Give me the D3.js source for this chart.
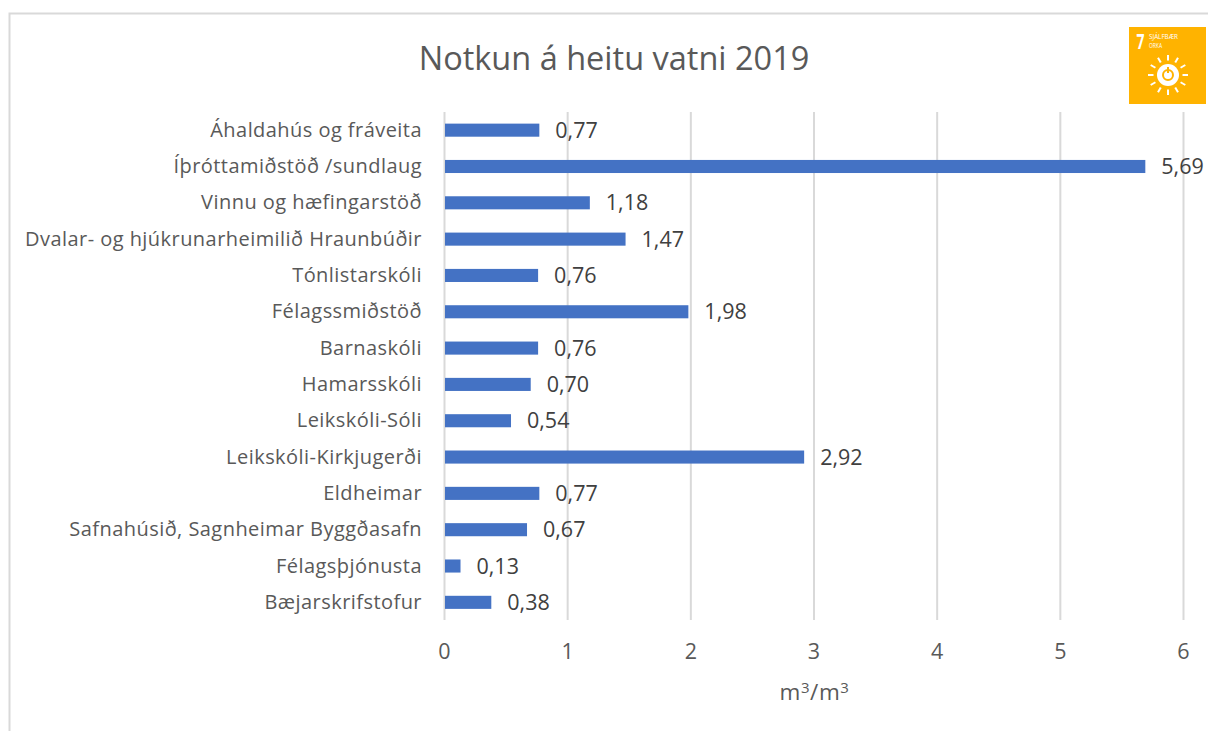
<!DOCTYPE html>
<html><head><meta charset="utf-8">
<script src="https://cdn.jsdelivr.net/npm/d3@7"></script>
<style>html,body{margin:0;padding:0;background:#fff}svg{display:block}text{font-family:"Open Sans","Noto Sans",sans-serif}</style>
</head><body><svg id="c" width="1208" height="731"></svg>
<script>
const categories=["Áhaldahús og fráveita","Íþróttamiðstöð /sundlaug","Vinnu og hæfingarstöð","Dvalar- og hjúkrunarheimilið Hraunbúðir","Tónlistarskóli","Félagssmiðstöð","Barnaskóli","Hamarsskóli","Leikskóli-Sóli","Leikskóli-Kirkjugerði","Eldheimar","Safnahúsið, Sagnheimar Byggðasafn","Félagsþjónusta","Bæjarskrifstofur"];
const values=[0.77,5.69,1.18,1.47,0.76,1.98,0.76,0.70,0.54,2.92,0.77,0.67,0.13,0.38];
const ticks=[0,1,2,3,4,5,6];
const svg=d3.select("#c");
const x=d3.scaleLinear().domain([0,6]).range([444.5,1183.5]);
const y=d3.scaleBand().domain(categories).range([112,620.5]).paddingInner(0.64).paddingOuter(0.32);
const fmt=v=>v.toFixed(2).replace(".",",");
svg.append("path").attr("d","M9.5,731V13.5H1208").attr("fill","none").attr("stroke","#d9d9d9").attr("stroke-width",2);
svg.selectAll("line.g").data(ticks).join("line").attr("class","g")
 .attr("x1",x).attr("x2",x).attr("y1",112).attr("y2",620).attr("stroke","#d9d9d9").attr("stroke-width",2);
svg.selectAll("rect.b").data(values).join("rect").attr("class","b")
 .attr("x",x(0)+0.5).attr("y",(d,i)=>y(categories[i])).attr("width",d=>x(d)-x(0)-0.5).attr("height",y.bandwidth()).attr("fill","#4472c4");
svg.selectAll("text.v").data(values).join("text").attr("class","v")
 .attr("x",d=>x(d)+16).attr("y",(d,i)=>y(categories[i])+y.bandwidth()/2+7.5)
 .attr("font-size",21.5).attr("fill","#404040").text(fmt);
svg.selectAll("text.c").data(categories).join("text").attr("class","c")
 .attr("x",422).attr("y",d=>y(d)+y.bandwidth()/2+6.5).attr("text-anchor","end")
 .attr("font-size",20).attr("letter-spacing",0.45).attr("fill","#595959").text(d=>d);
svg.selectAll("text.t").data(ticks).join("text").attr("class","t")
 .attr("x",x).attr("y",659).attr("text-anchor","middle").attr("font-size",21.5).attr("fill","#595959").text(d=>d);
const xl=svg.append("text").attr("x",814.5).attr("y",700).attr("text-anchor","middle").attr("font-size",22.5).attr("letter-spacing",0.6).attr("fill","#595959");
xl.append("tspan").text("m");
xl.append("tspan").attr("font-size",15).attr("dy",-7).text("3");
xl.append("tspan").attr("dy",7).text("/m");
xl.append("tspan").attr("font-size",15).attr("dy",-7).text("3");
svg.append("text").attr("x",614).attr("y",70).attr("text-anchor","middle").attr("font-size",32.5).attr("fill","#595959").text("Notkun á heitu vatni 2019");
// SDG 7 badge
const b=svg.append("g").attr("transform","translate(1129,27)");
b.append("rect").attr("width",77).attr("height",77).attr("fill","#ffb300");
b.append("text").attr("x",7.5).attr("y",22).attr("font-size",22).attr("font-weight",700).attr("textLength",8).attr("lengthAdjust","spacingAndGlyphs").attr("fill","#fff").text("7");
b.append("text").attr("x",20).attr("y",12).attr("font-size",8).attr("textLength",29).attr("lengthAdjust","spacingAndGlyphs").attr("fill","#fff").text("SJÁLFBÆR");
b.append("text").attr("x",20).attr("y",21).attr("font-size",8).attr("textLength",13).attr("lengthAdjust","spacingAndGlyphs").attr("fill","#fff").text("ORKA");
const s=b.append("g").attr("transform","translate(39,48)");
s.selectAll("line").data(d3.range(12)).join("line")
 .attr("x1",d=>Math.cos(d*Math.PI/6)*14.5).attr("y1",d=>Math.sin(d*Math.PI/6)*14.5)
 .attr("x2",d=>Math.cos(d*Math.PI/6)*20).attr("y2",d=>Math.sin(d*Math.PI/6)*20)
 .attr("stroke","#fff").attr("stroke-width",2);
s.append("circle").attr("r",11).attr("fill","#fff");
s.append("circle").attr("r",5).attr("fill","none").attr("stroke","#ffb300").attr("stroke-width",2);
s.append("line").attr("y1",-8).attr("y2",-2).attr("stroke","#ffb300").attr("stroke-width",2);
</script></body></html>
